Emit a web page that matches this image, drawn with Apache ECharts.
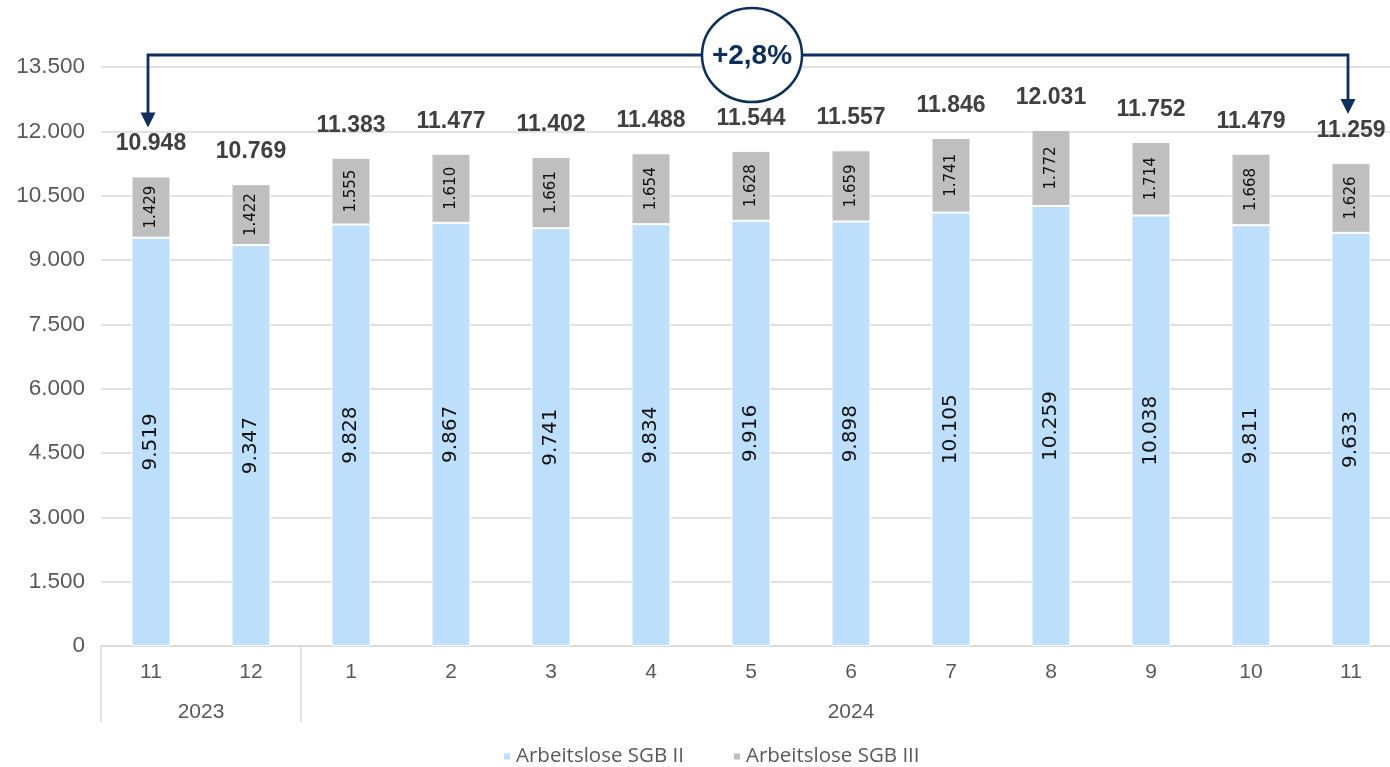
<!DOCTYPE html>
<html><head><meta charset="utf-8">
<script src="https://cdn.jsdelivr.net/npm/echarts@6/dist/echarts.min.js"></script>
<style>html,body{margin:0;padding:0;background:#fff;overflow:hidden}#c{width:1401px;height:767px}</style>
</head><body><div id="c"></div>
<script>
const months = ['11','12','1','2','3','4','5','6','7','8','9','10','11'];
const years = ['2023','2024'];
const yearStarts = [0, 2];
const sgb2 = [9519,9347,9828,9867,9741,9834,9916,9898,10105,10259,10038,9811,9633];
const sgb3 = [1429,1422,1555,1610,1661,1654,1628,1659,1741,1772,1714,1668,1626];
const totals = [10948,10769,11383,11477,11402,11488,11544,11557,11846,12031,11752,11479,11259];
const seriesNames = ['Arbeitslose SGB II','Arbeitslose SGB III'];

const fmt = v => String(Math.round(v)).replace(/\B(?=(\d{3})+(?!\d))/g, '.');
const sans = "'Liberation Sans', Arial, sans-serif";
const dv = "'DejaVu Sans', sans-serif";
const navy = '#0c2f5c';

const chart = echarts.init(document.getElementById('c'), null, {renderer:'canvas'});
const nCat = months.length;
const yearCenters = [ (yearStarts[0]+yearStarts[1])/2, (yearStarts[1]+nCat)/2 ];

chart.setOption({
  animation:false,
  grid:{left:101, top:67, bottom:121, width:1300, containLabel:false},
  legend:{
    bottom:0, left:502, padding:0, itemWidth:8, itemHeight:8, itemGap:48, icon:'rect',
    textStyle:{fontFamily:"'Open Sans', sans-serif", fontSize:20.5, color:'#595959'},
    data:seriesNames
  },
  xAxis:[{
    type:'category', data:months, position:'bottom',
    axisLine:{show:true, lineStyle:{color:'#d9d9d9', width:1.5}},
    axisTick:{show:false},
    axisLabel:{fontFamily:sans, fontSize:21, color:'#595959', margin:16}
  },{
    type:'value', min:0, max:nCat, position:'bottom',
    axisLine:{show:false}, splitLine:{show:false},
    axisTick:{show:true, customValues:[...yearStarts], length:76, lineStyle:{color:'#d9d9d9', width:1.5}},
    axisLabel:{show:true, customValues:yearCenters, fontFamily:sans, fontSize:21, color:'#595959', margin:56,
      formatter:(v)=>{const i=yearCenters.indexOf(v);return i>=0?years[i]:'';}}
  }],
  yAxis:{
    type:'value', min:0, max:13500, interval:1500,
    axisLine:{show:false}, axisTick:{show:false},
    splitLine:{lineStyle:{color:'#d9d9d9', width:1.5}},
    axisLabel:{fontFamily:sans, fontSize:22.5, color:'#595959', margin:16, formatter:fmt}
  },
  series:[{
    name:seriesNames[0], type:'bar', stack:'a', data:sgb2, barWidth:39,
    itemStyle:{color:'#bddffc', borderColor:'#fff', borderWidth:1},
    label:{show:true, position:'inside', rotate:90, fontFamily:dv, fontSize:20, color:'#111', formatter:p=>fmt(p.value)}
  },{
    name:seriesNames[1], type:'bar', stack:'a', data:sgb3, barWidth:39,
    itemStyle:{color:'#bfbfbf', borderColor:'#fff', borderWidth:1},
    label:{show:true, position:'inside', rotate:90, fontFamily:dv, fontSize:15, color:'#111', formatter:p=>fmt(p.value)}
  },{
    name:'Summe', type:'scatter', data:totals, symbolSize:0, silent:true,
    itemStyle:{opacity:1, color:'rgba(0,0,0,0)'},
    label:{show:true, position:'top', distance:21, fontFamily:sans, fontWeight:'bold', fontSize:23, color:'#404040', formatter:p=>fmt(p.value)}
  }]
});

// Annotation: change from first to last total
const first = 0, last = nCat-1;
const pct = (totals[last]/totals[first]-1)*100;
const pctTxt = (pct>=0?'+':'') + pct.toFixed(1).replace('.', ',') + '%';
const x1 = chart.convertToPixel({xAxisIndex:0}, first) - 3;
const x2 = chart.convertToPixel({xAxisIndex:0}, last) - 3;
const yTop = chart.convertToPixel({yAxisIndex:0}, 13500) - 12;
const tip1 = chart.convertToPixel({yAxisIndex:0}, totals[first]) - 49;
const tip2 = chart.convertToPixel({yAxisIndex:0}, totals[last]) - 49;
const cx = (x1+x2)/2 + 4;
const ah = 15, aw = 7.5;
chart.setOption({graphic:[
  {type:'polyline', shape:{points:[[x1,tip1-ah+2],[x1,yTop],[x2,yTop],[x2,tip2-ah+2]]}, style:{stroke:navy, lineWidth:2.8, fill:null}},
  {type:'polygon', shape:{points:[[x1-aw,tip1-ah],[x1+aw,tip1-ah],[x1,tip1]]}, style:{fill:navy}},
  {type:'polygon', shape:{points:[[x2-aw,tip2-ah],[x2+aw,tip2-ah],[x2,tip2]]}, style:{fill:navy}},
  {type:'ellipse', shape:{cx:cx, cy:yTop, rx:50, ry:47}, style:{fill:'#fff', stroke:navy, lineWidth:2.5}},
  {type:'text', x:cx, y:yTop+1, style:{text:pctTxt, fill:navy, font:"bold 28px 'Liberation Sans', Arial, sans-serif", align:'center', verticalAlign:'middle'}}
]});
</script></body></html>
